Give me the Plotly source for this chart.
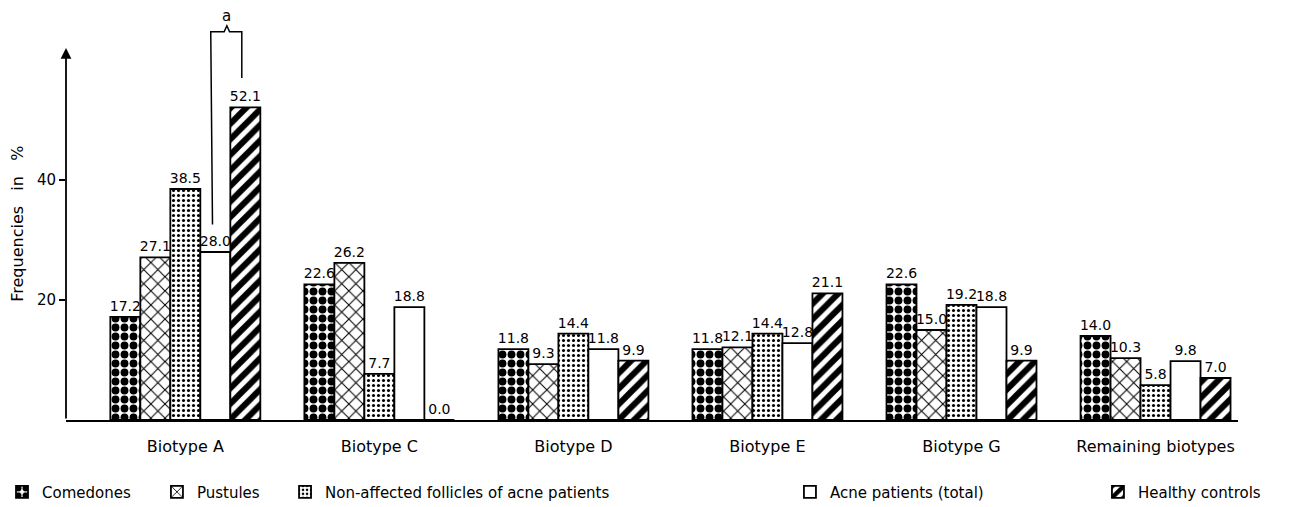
import plotly.graph_objects as go

categories = ["Biotype A", "Biotype C", "Biotype D", "Biotype E", "Biotype G", "Remaining biotypes"]
series_names = ["Comedones", "Pustules", "Non-affected follicles of acne patients",
                "Acne patients (total)", "Healthy controls"]
comedones = [17.2, 22.6, 11.8, 11.8, 22.6, 14.0]
pustules = [27.1, 26.2, 9.3, 12.1, 15.0, 10.3]
non_affected = [38.5, 7.7, 14.4, 14.4, 19.2, 5.8]
acne_total = [28.0, 18.8, 11.8, 12.8, 18.8, 9.8]
healthy = [52.1, 0.0, 9.9, 21.1, 9.9, 7.0]
y_ticks = [20, 40]

FONT = "DejaVu Sans"
series_values = [comedones, pustules, non_affected, acne_total, healthy]
patterns = [
    dict(shape=".", size=9, solidity=0.6, fgcolor="black", bgcolor="white", fgopacity=1),
    dict(shape="x", size=10, solidity=0.2, fgcolor="black", bgcolor="white", fgopacity=1),
    dict(shape=".", size=5, solidity=0.3, fgcolor="black", bgcolor="white", fgopacity=1),
    dict(shape="", fgcolor="black", bgcolor="white"),
    dict(shape="/", size=11, solidity=0.55, fgcolor="black", bgcolor="white", fgopacity=1),
]
legend_ids = ["legend", "legend2", "legend3", "legend4", "legend5"]
legend_x = [-0.0546, 0.0776, 0.1869, 0.6177, 0.8805]

fig = go.Figure()
for name, vals, pat, lid in zip(series_names, series_values, patterns, legend_ids):
    fig.add_trace(go.Bar(
        x=categories, y=vals, name=name, legend=lid,
        marker=dict(color="white", pattern=pat, line=dict(color="black", width=1.8)),
        texttemplate="%{y:.1f}", textposition="outside", cliponaxis=False,
        constraintext="none",
        textfont=dict(family=FONT, size=14, color="black"),
    ))

legend_cfg = {}
for lid, lx in zip(legend_ids, legend_x):
    legend_cfg[lid] = dict(x=lx, y=-0.175, xanchor="left", yanchor="middle",
                           orientation="h", bgcolor="rgba(0,0,0,0)",
                           font=dict(family=FONT, size=15, color="black"))

Y_MAX = 412 / 6.0

fig.update_layout(
    width=1289, height=499,
    margin=dict(l=58, r=59, t=0, b=87, autoexpand=False),
    paper_bgcolor="white", plot_bgcolor="white",
    barmode="group", bargap=0.227, bargroupgap=0,
    showlegend=True,
    font=dict(family=FONT, size=15, color="black"),
    **legend_cfg,
)
fig.update_xaxes(
    range=[-0.615, 5.425], showline=True, linecolor="black", linewidth=2,
    showgrid=False, zeroline=False, ticks="", ticklabelstandoff=11,
    tickfont=dict(family=FONT, size=16, color="black"),
)
fig.update_yaxes(
    range=[0, Y_MAX], showline=False, showgrid=False, zeroline=False,
    tickvals=y_ticks, ticktext=[str(v) for v in y_ticks],
    ticks="outside", ticklen=6, tickwidth=1.5, tickcolor="black",
    tickfont=dict(family=FONT, size=15, color="black"),
)

# y axis drawn as an arrow
fig.add_annotation(x=-0.615, y=62, ax=-0.615, ay=0, xref="x", yref="y",
                   axref="x", ayref="y", text="", showarrow=True,
                   arrowhead=2, arrowsize=1.2, arrowwidth=1.8, arrowcolor="black")
# y axis title
fig.add_annotation(x=-0.041, y=32.7, xref="paper", yref="y", xanchor="center", yanchor="middle",
                   text="Frequencies\u00a0\u00a0\u00a0in\u00a0\u00a0\u00a0%",
                   textangle=-90, showarrow=False, font=dict(family=FONT, size=16, color="black"))

# significance bracket between acne patients (total) and healthy controls, Biotype A
fig.add_shape(type="path", xref="x", yref="y",
              path="M 0.14 32.6 L 0.131 64.7 L 0.2 64.7 L 0.214 65.7 L 0.228 64.7 L 0.291 64.7 L 0.291 57",
              line=dict(color="black", width=1.5))
fig.add_annotation(x=0.214, y=67.3, xref="x", yref="y", text="a", showarrow=False,
                   font=dict(family=FONT, size=15, color="black"))

fig.write_html("out.html")
